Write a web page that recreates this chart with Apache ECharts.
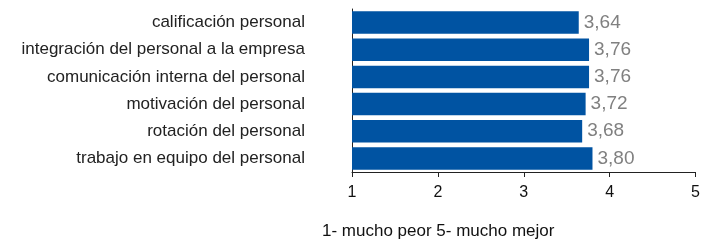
<!DOCTYPE html>
<html>
<head>
<meta charset="utf-8">
<script src="https://cdn.jsdelivr.net/npm/echarts@6/dist/echarts.min.js"></script>
<style>
  html, body { margin: 0; padding: 0; background: #fff; }
  #chart { width: 703px; height: 241px; }
</style>
</head>
<body>
<div id="chart"></div>
<script>
    // datos
    var categorias = ['calificación personal', 'integración del personal a la empresa', 'comunicación interna del personal',
        'motivación del personal', 'rotación del personal', 'trabajo en equipo del personal'];
    var valores = [3.64, 3.76, 3.76, 3.72, 3.68, 3.80];
    var escala = [1, 2, 3, 4, 5];

    var myChart = echarts.init(document.getElementById('chart'));
    var option = {
        animation: false,
        grid: {
            left: 352,
            right: 6,
            top: 9,
            bottom: 69
        },
        xAxis: {
            type: 'value',
            min: escala[0],
            max: escala[escala.length - 1],
            interval: 1,
            splitLine: { show: false },
            axisLine: { show: true, lineStyle: { color: '#222', width: 1 } },
            axisTick: { show: true, length: 5, lineStyle: { color: '#222' } },
            axisLabel: {
                color: '#111',
                fontSize: 16,
                fontFamily: 'Liberation Sans, Arial, sans-serif',
                margin: 13
            }
        },
        yAxis: {
            type: 'category',
            inverse: true,
            data: categorias,
            axisLine: { show: true, lineStyle: { color: '#222', width: 1 } },
            axisTick: { show: false },
            axisLabel: {
                color: '#222',
                fontSize: 17,
                fontFamily: 'Liberation Sans, Arial, sans-serif',
                margin: 47
            }
        },
        series: [
            {
                name: 'valoración',
                type: 'bar',
                data: valores,
                barCategoryGap: '17%',
                itemStyle: { color: '#0053a2' },
                label: {
                    show: true,
                    position: 'right',
                    distance: 5,
                    color: '#808080',
                    fontSize: 19,
                    fontFamily: 'Liberation Sans Narrow, Liberation Sans, Arial, sans-serif',
                    formatter: function (p) {
                        return p.value.toFixed(2).replace('.', ',');
                    }
                }
            }
        ],
        graphic: [
            {
                type: 'text',
                left: 322,
                top: 223,
                style: {
                    text: '1- mucho peor 5- mucho mejor',
                    fill: '#111',
                    fontSize: 17,
                    fontFamily: 'Liberation Sans, Arial, sans-serif'
                }
            }
        ]
    };

    myChart.setOption(option);
</script>
</body>
</html>
